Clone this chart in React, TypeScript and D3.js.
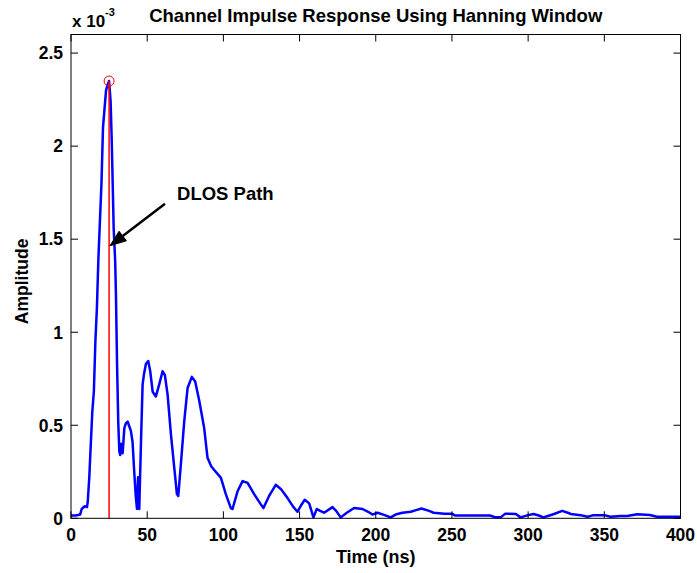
import React from "react";
import * as d3 from "d3";

// Sample times (ns) and impulse-response amplitudes (x 10^-3)
const timeNs: number[] = [
  0, 3, 6, 7, 9, 10.5, 11, 12, 13, 14, 15, 16, 17, 18, 19, 20, 21, 22, 23, 24, 25,
  26, 26.7, 27.5, 28, 29, 29.5, 30.2, 31, 31.7, 32.3, 32.8, 33.9, 35, 36, 37.2, 38,
  39.3, 40.4, 41.5, 42.5, 43.3, 44, 44.8, 45.9, 47, 48, 49.2, 50.7, 52, 53.6, 55.7,
  57.9, 60.1, 61.6, 63.4, 65.6, 67.8, 69.5, 70.4, 72.1, 74.3, 76.5, 79.3, 81.5, 84.2,
  87.4, 89.6, 92, 94, 98.4, 101.6, 104.9, 106, 109.3, 112.6, 115.9, 120.2, 124.6,
  126.3, 130, 134.4, 138, 142, 146, 148.6, 151, 153.4, 156.3, 159.1, 161.3, 163.5,
  166.1, 171.6, 174, 177, 181, 185.8, 191.3, 195, 197.8, 201.1, 205, 209.8, 213,
  217.5, 223, 227, 230, 235, 238, 245, 250, 252, 275, 278.7, 282, 285, 292, 295, 300,
  303.5, 307, 310, 314, 317, 322.4, 326, 328, 334.4, 339, 343, 350, 354, 360.6, 365,
  371.6, 380, 384.6, 400,
];

const amplitude: number[] = [
  0.015, 0.015, 0.02, 0.05, 0.065, 0.06, 0.09, 0.22, 0.4, 0.575, 0.68, 0.95, 1.13,
  1.4, 1.6, 1.8, 2.1, 2.2, 2.3, 2.33, 2.35,
  2.24, 2.04, 1.75, 1.56, 1.38, 1.2, 0.84, 0.52, 0.36, 0.34, 0.4, 0.35, 0.485, 0.51,
  0.52, 0.5, 0.47, 0.41, 0.25, 0.12, 0.05, 0.22, 0.05, 0.4, 0.72, 0.78, 0.83, 0.845,
  0.79, 0.68, 0.655, 0.72, 0.79, 0.77, 0.665, 0.45, 0.27, 0.13, 0.12, 0.29, 0.52, 0.7,
  0.76, 0.735, 0.63, 0.485, 0.325, 0.28, 0.26, 0.217, 0.13, 0.055, 0.05, 0.145, 0.2,
  0.19, 0.13, 0.075, 0.055, 0.12, 0.18, 0.155, 0.11, 0.06, 0.035, 0.07, 0.1, 0.08,
  0.005, 0.05, 0.04, 0.03, 0.06, 0.04, 0.005, 0.03, 0.055, 0.05, 0.035, 0.02, 0.03,
  0.02, 0.005, 0.02, 0.03, 0.035, 0.045, 0.053, 0.04, 0.03, 0.025, 0.025, 0.015,
  0.015, 0.005, 0.005, 0.025, 0.023, 0.005, 0.017, 0.023, 0.015, 0.005, 0.015, 0.023,
  0.04, 0.03, 0.023, 0.017, 0.008, 0.017, 0.017, 0.008, 0.012, 0.012, 0.022, 0.018,
  0.008, 0.008,
];

const xTicks: number[] = [0, 50, 100, 150, 200, 250, 300, 350, 400];
const yTicks: number[] = [0, 0.5, 1, 1.5, 2, 2.5];
const xDomain: [number, number] = [0, 400];
const yDomain: [number, number] = [0, 2.6];

// Direct line-of-sight path: time and amplitude of the strongest tap
const dlosTime = 25;
const dlosAmp = 2.35;

// Annotation anchor points in data units
const arrowTip: [number, number] = [25.6, 1.465];
const arrowTail: [number, number] = [61.7, 1.69];
const labelAt: [number, number] = [69.6, 1.71];

const titleText = "Channel Impulse Response Using Hanning Window";
const xLabel = "Time (ns)";
const yLabel = "Amplitude";
const annotationText = "DLOS Path";

const W = 697;
const H = 573;
const margin = { left: 71, right: 16.5, top: 34.5, bottom: 54.7 };

const FONT = "'Liberation Sans', Arial, Helvetica, sans-serif";

export default function App() {
  const x = d3.scaleLinear().domain(xDomain).range([margin.left, W - margin.right]);
  const y = d3.scaleLinear().domain(yDomain).range([H - margin.bottom, margin.top]);

  const x0 = x.range()[0];
  const x1 = x.range()[1];
  const yb = y.range()[0];
  const yt = y.range()[1];

  const points: [number, number][] = timeNs.map((t, i) => [t, amplitude[i]]);
  const line = d3
    .line<[number, number]>()
    .x((d) => x(d[0]))
    .y((d) => y(d[1]))
    .curve(d3.curveLinear);

  const tickLen = 7;

  // arrow geometry
  const tx = x(arrowTip[0]);
  const ty = y(arrowTip[1]);
  const sx = x(arrowTail[0]);
  const sy = y(arrowTail[1]);
  const ang = Math.atan2(ty - sy, tx - sx);
  const headLen = 16;
  const headHalf = 6;
  const bx = tx - headLen * Math.cos(ang);
  const by = ty - headLen * Math.sin(ang);
  const px = -Math.sin(ang) * headHalf;
  const py = Math.cos(ang) * headHalf;
  const head = `${tx},${ty} ${bx + px},${by + py} ${bx - px},${by - py}`;

  return (
    <svg
      width={W}
      height={H}
      style={{ position: "fixed", left: 0, top: 0, background: "#fff" }}
      fontFamily={FONT}
    >
      <rect x={0} y={0} width={W} height={H} fill="#fff" />

      {/* data */}
      <path d={line(points) || ""} fill="none" stroke="#0000ff" strokeWidth={2.5} strokeLinejoin="round" />
      <line x1={x(dlosTime)} x2={x(dlosTime)} y1={y(0)} y2={y(dlosAmp)} stroke="#ff0000" strokeWidth={1.5} />
      <circle cx={x(dlosTime)} cy={y(dlosAmp)} r={5} fill="none" stroke="#ff0000" strokeWidth={1} />

      {/* axes box */}
      <rect x={x0} y={yt} width={x1 - x0} height={yb - yt} fill="none" stroke="#000" strokeWidth={1} />

      {xTicks.map((t) => (
        <g key={"xt" + t}>
          <line x1={x(t)} x2={x(t)} y1={yb} y2={yb - tickLen} stroke="#000" />
          <line x1={x(t)} x2={x(t)} y1={yt} y2={yt + tickLen} stroke="#000" />
          <text x={x(t)} y={yb + 23} textAnchor="middle" fontSize={17.5} fontWeight="bold">
            {t}
          </text>
        </g>
      ))}
      {yTicks.map((v) => (
        <g key={"yt" + v}>
          <line x1={x0} x2={x0 + tickLen} y1={y(v)} y2={y(v)} stroke="#000" />
          <line x1={x1} x2={x1 - tickLen} y1={y(v)} y2={y(v)} stroke="#000" />
          <text x={x0 - 8} y={y(v)} dy="0.36em" textAnchor="end" fontSize={17.5} fontWeight="bold">
            {v}
          </text>
        </g>
      ))}

      {/* exponent */}
      <text x={x0 + 1} y={27} fontSize={17} fontWeight="bold">
        x 10
        <tspan fontSize={11} dy={-11}>-3</tspan>
      </text>

      {/* title and labels */}
      <text x={(x0 + x1) / 2} y={22} textAnchor="middle" fontSize={18.5} fontWeight="bold">
        {titleText}
      </text>
      <text x={(x0 + x1) / 2} y={563} textAnchor="middle" fontSize={18} fontWeight="bold">
        {xLabel}
      </text>
      <text
        transform={`translate(28,${(yt + yb) / 2 + 5}) rotate(-90)`}
        textAnchor="middle"
        fontSize={17.5}
        fontWeight="bold"
      >
        {yLabel}
      </text>

      {/* annotation */}
      <line x1={sx} y1={sy} x2={bx} y2={by} stroke="#000" strokeWidth={2.5} />
      <polygon points={head} fill="#000" stroke="#000" strokeWidth={1} />
      <text x={x(labelAt[0])} y={y(labelAt[1])} fontSize={18.5} fontWeight="bold">
        {annotationText}
      </text>
    </svg>
  );
}
